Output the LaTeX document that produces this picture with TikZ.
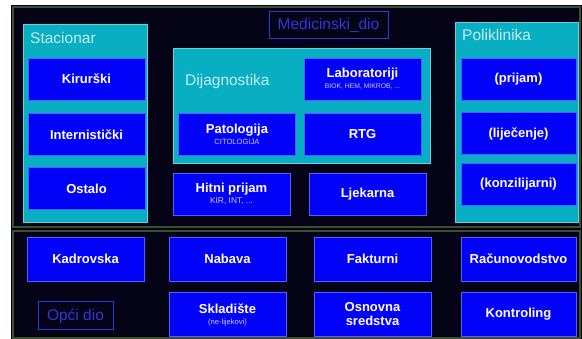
\documentclass[tikz,border=0pt]{standalone}
\usepackage{fontspec}
\setmainfont{Liberation Sans}
\definecolor{pozadina}{RGB}{4,4,22}
\definecolor{okvir}{RGB}{62,78,46}
\definecolor{cijan}{RGB}{8,174,194}
\definecolor{plava}{RGB}{2,2,248}
\definecolor{rubplava}{RGB}{80,96,255}
\definecolor{svijetla}{RGB}{196,236,246}
\definecolor{oznplava}{RGB}{52,52,225}
\definecolor{blijeda}{RGB}{200,205,255}
\newcommand\podtekst[2][7.6]{{\fontsize{#1}{8}\selectfont\mdseries\color{blijeda}#2}}

\begin{document}
\begin{tikzpicture}[x=1pt,y=-1pt,
  blok/.style={draw=rubplava,fill=plava,text=white,minimum width=117pt,minimum height=42pt,
    inner sep=0pt,align=center,font=\fontsize{13}{14}\selectfont\bfseries},
  panel/.style={fill=cijan,draw=cijan!60!white,inner sep=0pt},
  naslov/.style={text=svijetla,anchor=west,inner sep=0pt,font=\fontsize{15.5}{17}\selectfont},
  oznaka/.style={draw=oznplava,line width=1pt,text=oznplava,inner sep=0pt,font=\fontsize{15.5}{17}\selectfont},
  dio/.style={draw=okvir,line width=1.2pt}]
\useasboundingbox (0,0) rectangle (582,339);
\fill[pozadina] (11,5) rectangle (582,339);
\draw[dio] (13,7) rectangle (580,227);
\draw[dio] (13,231) rectangle (580,338);

% medicinski dio
\node[oznaka,minimum width=119pt,minimum height=27pt] (medicinski) at (328.5,25.5) {Medicinski\_dio};

\node[panel,minimum width=124pt,minimum height=198pt] (stacionar) at (85,123) {};
\node[naslov] (stacionarnaslov) at (30,38) {Stacionar};
\node[blok] (kirurski) at (86.5,79) {Kirurški};
\node[blok] (internisticki) at (86.5,134.5) {Internistički};
\node[blok] (ostalo) at (86.5,188.5) {Ostalo};

\node[panel,minimum width=257pt,minimum height=115pt] (dijagnostika) at (301.5,105.5) {};
\node[naslov] (dijagnostikanaslov) at (185,81) {Dijagnostika};
\node[blok] (laboratoriji) at (362.5,79) {Laboratoriji\\[-3pt]\podtekst[6.8]{BIOK, HEM, MIKROB, ...}};
\node[blok] (patologija) at (237,134.5) {Patologija\\[-3pt]\podtekst{CITOLOGIJA}};
\node[blok] (rtg) at (362.5,134.5) {RTG};
\node[blok] (hitni) at (231.5,194) {Hitni prijam\\[-3pt]\podtekst[8.4]{KIR, INT, ...}};
\node[blok] (ljekarna) at (367.5,194) {Ljekarna};

\node[panel,minimum width=123pt,minimum height=200pt] (poliklinika) at (516.5,122) {};
\node[naslov] (poliklinikanaslov) at (462,35) {Poliklinika};
\node[blok,minimum width=115pt] (prijam) at (518.5,79) {(prijam)};
\node[blok,minimum width=115pt] (lijecenje) at (518.5,133.5) {(liječenje)};
\node[blok,minimum width=115pt] (konzilijarni) at (518.5,184) {(konzilijarni)};

% opci dio
\node[blok,minimum height=44pt] (kadrovska) at (85.5,259) {Kadrovska};
\node[blok,minimum height=44pt] (nabava) at (227.5,259) {Nabava};
\node[blok,minimum height=44pt] (fakturni) at (372.5,259) {Fakturni};
\node[blok,minimum width=115pt,minimum height=44pt] (racunovodstvo) at (518.5,259) {Računovodstvo};
\node[oznaka,minimum width=75pt,minimum height=28pt] (opci) at (75.5,316) {Opći dio};
\node[blok,minimum height=44pt] (skladiste) at (227.5,314.5) {Skladište\\[-3pt]\podtekst{(ne-lijekovi)}};
\node[blok,minimum height=44pt] (osnovna) at (372.5,314.5) {Osnovna\\sredstva};
\node[blok,minimum width=115pt,minimum height=44pt] (kontroling) at (518.5,314.5) {Kontroling};
\end{tikzpicture}
\end{document}
